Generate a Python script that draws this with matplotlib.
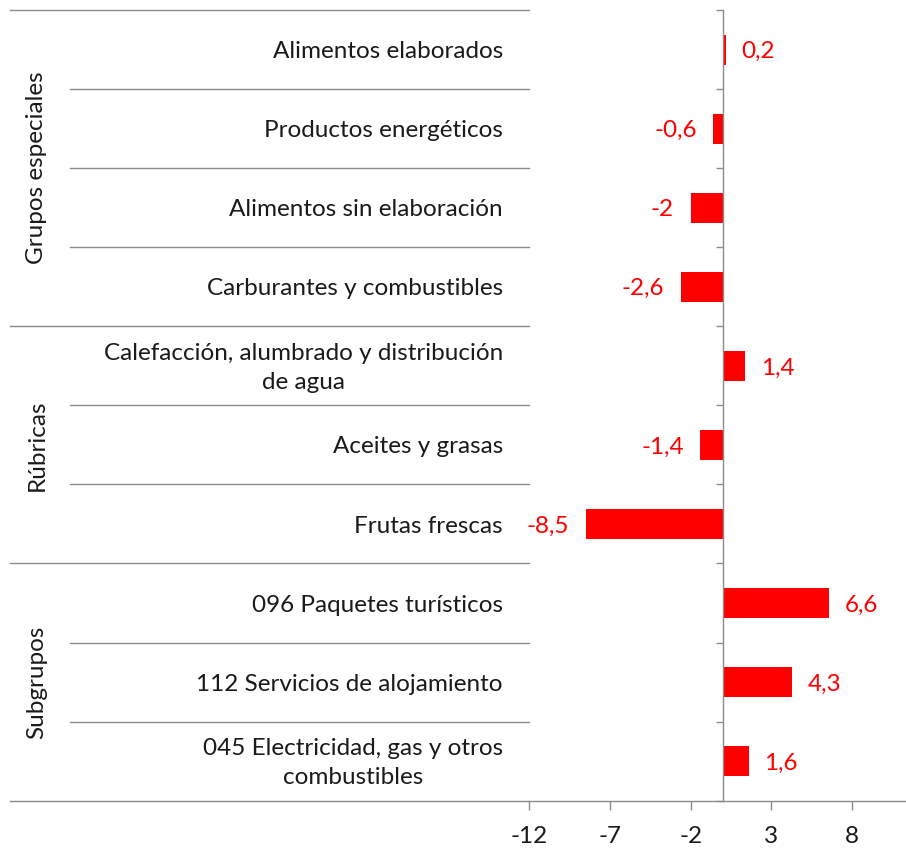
import matplotlib.pyplot as plt
from matplotlib.transforms import blended_transform_factory

plt.rcParams['font.family'] = ['Lato', 'DejaVu Sans']

labels = [
    "Alimentos elaborados",
    "Productos energéticos",
    "Alimentos sin elaboración",
    "Carburantes y combustibles",
    "Calefacción, alumbrado y distribución\nde agua",
    "Aceites y grasas",
    "Frutas frescas",
    "096 Paquetes turísticos",
    "112 Servicios de alojamiento",
    "045 Electricidad, gas y otros\ncombustibles",
]
values = [0.2, -0.6, -2, -2.6, 1.4, -1.4, -8.5, 6.6, 4.3, 1.6]
groups = ["Grupos especiales", "Rúbricas", "Subgrupos"]
group_sizes = [4, 3, 3]
xticks = [-12, -7, -2, 3, 8]

FS = 17.5
GRAY = '#8c8c8c'
TXT = '#1a1a1a'
RED = '#ff0000'

fig = plt.figure(figsize=(9.06, 8.49), dpi=100)
ax = fig.add_axes([529.3 / 906, 48.3 / 849, 376.7 / 906, 790.7 / 849])

pos = list(range(len(labels)))
ax.barh(pos, values, height=0.38, color=RED)

ax.set_xlim(-12, 11.35)
ax.set_ylim(len(labels) - 0.5, -0.5)

for s in ['top', 'right']:
    ax.spines[s].set_visible(False)
ax.spines['left'].set_position(('data', 0))
ax.spines['left'].set_color(GRAY)
ax.spines['bottom'].set_color(GRAY)
ax.spines['left'].set_linewidth(1.0)
ax.spines['bottom'].set_linewidth(1.0)

ax.set_yticks([p - 0.5 for p in pos] + [len(labels) - 0.5])
ax.set_yticklabels([])
ax.tick_params(axis='y', direction='out', length=5, color=GRAY, width=1.0)

ax.set_xticks(xticks)
ax.set_xticklabels([str(t) for t in xticks], fontsize=FS, color=TXT)
ax.tick_params(axis='x', direction='out', length=6.3, color=GRAY, width=1.0, pad=12)

# value labels
for p, v in zip(pos, values):
    txt = ('%g' % v).replace('.', ',')
    if v >= 0:
        ax.annotate(txt, xy=(v, p), xytext=(11, -1.5), textcoords='offset points',
                    ha='left', va='center', fontsize=FS, color=RED)
    else:
        ax.annotate(txt, xy=(v, p), xytext=(-12, -1.5), textcoords='offset points',
                    ha='right', va='center', fontsize=FS, color=RED)

# category labels
for p, lab in zip(pos, labels):
    ax.annotate(lab, xy=(0, p), xycoords=('axes fraction', 'data'),
                xytext=(-19, -1.5), textcoords='offset points',
                ha='right', va='center', multialignment='center',
                fontsize=FS, color=TXT, linespacing=1.45)

# separators of the category axis
tr = blended_transform_factory(ax.transAxes, ax.transData)
inner_x0 = -459.3 / 376.7
outer_x0 = -519.3 / 376.7
bounds = [0]
for g in group_sizes:
    bounds.append(bounds[-1] + g)
for i in range(len(labels) + 1):
    x0 = outer_x0 if i in bounds else inner_x0
    ax.plot([x0, 0], [i - 0.5, i - 0.5], transform=tr, color=GRAY,
            lw=1.0, clip_on=False)

# group labels
for k, g in enumerate(groups):
    center = (bounds[k] + bounds[k + 1]) / 2 - 0.5
    ax.text(-492.3 / 376.7, center, g, transform=tr, rotation=90,
            ha='center', va='center', fontsize=FS, color=TXT)

fig.savefig('out.png', dpi=100)
